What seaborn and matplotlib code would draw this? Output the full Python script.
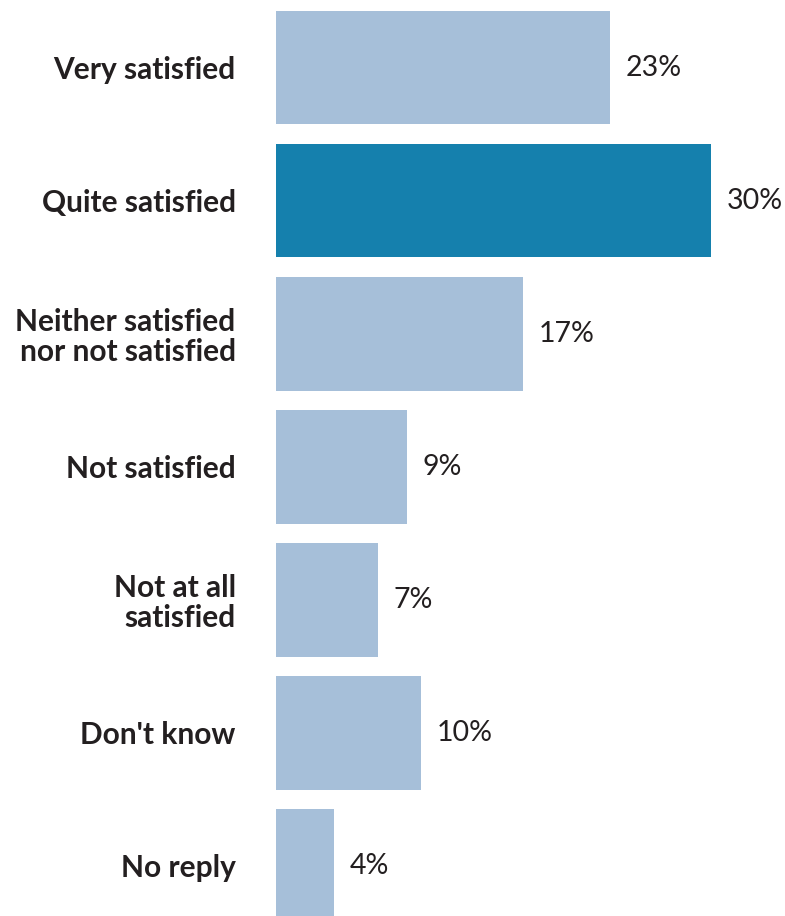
import matplotlib
matplotlib.use("Agg")
import matplotlib.pyplot as plt
import seaborn as sns
import pandas as pd

# Survey answers and share of respondents (%)
categories = [
    "Very satisfied",
    "Quite satisfied",
    "Neither satisfied\nnor not satisfied",
    "Not satisfied",
    "Not at all\nsatisfied",
    "Don't know",
    "No reply",
]
shares = [23, 30, 17, 9, 7, 10, 4]
highlight = "Quite satisfied"

LIGHT = "#a6bfd9"
DARK = "#1580ad"
TEXT = "#231f20"

df = pd.DataFrame({"category": categories, "share": shares})
palette = {c: (DARK if c == highlight else LIGHT) for c in categories}

sns.set_theme(style="white")
plt.rcParams["font.family"] = ["Lato", "DejaVu Sans"]

fig = plt.figure(figsize=(7.85, 9.16), dpi=100)
ax = fig.add_axes([276 / 785, 0, 1 - 276 / 785, 1])

sns.barplot(
    data=df, x="share", y="category", hue="category", palette=palette,
    orient="h", width=0.85, saturation=1, legend=False, linewidth=0, ax=ax,
)

ax.set_xlim(0, 35.1)
ax.set_ylim(6.376, -0.511)
ax.set_xlabel("")
ax.set_ylabel("")
ax.set_xticks([])
sns.despine(ax=ax, left=True, bottom=True, top=True, right=True)

ax.tick_params(axis="y", length=0, pad=29)
for lab in ax.get_yticklabels():
    lab.set_fontsize(21.5)
    lab.set_fontweight("bold")
    lab.set_color(TEXT)
    lab.set_multialignment("right")
    lab.set_linespacing(1.05)

for i, v in enumerate(shares):
    ax.annotate(
        f"{v}%", xy=(v, i), xytext=(11.5, 0), textcoords="offset points",
        ha="left", va="center", fontsize=20.5, color=TEXT,
    )

fig.savefig("out.png", dpi=100, facecolor="white")
